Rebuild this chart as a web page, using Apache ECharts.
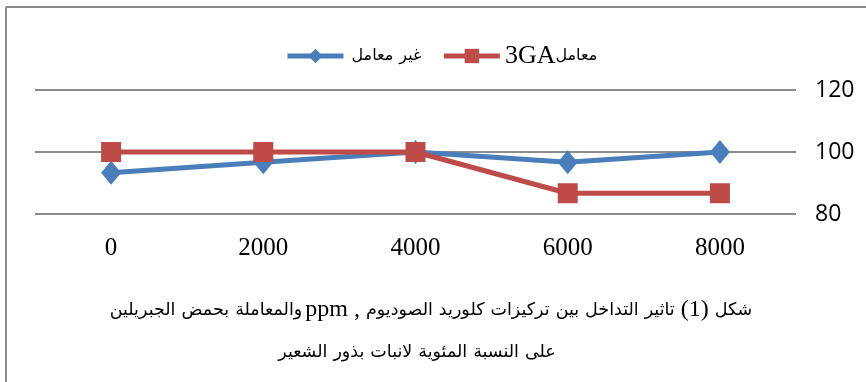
<!DOCTYPE html>
<html>
<head>
<meta charset="utf-8">
<script src="https://cdn.jsdelivr.net/npm/echarts@6/dist/echarts.min.js"></script>
<style>
  html, body { margin: 0; padding: 0; background: #fff; }
  #chart { width: 866px; height: 382px; }
</style>
</head>
<body>
<div id="chart"></div>
<script>
// NaCl concentration (ppm)
const categories = ['0', '2000', '4000', '6000', '8000'];
// germination percentage, untreated seeds
const untreated = [93.3, 96.7, 100, 96.7, 100];
// germination percentage, GA3-treated seeds
const treatedGA3 = [100, 100, 100, 86.7, 86.7];
const yTicks = { min: 80, max: 120, interval: 20 };

const nameUntreated = 'غير معامل';
const nameTreated = 'معامل3GA';

// Text runs in logical order; 'ar' = Arabic word, 'la' = Latin text, 'pm' = punctuation
const legendRuns = {
  'غير معامل': [['ar', 'معامل'], ['ar', 'غير']],
  'معامل3GA': [['la', '3GA'], ['ar0', 'معامل']]
};
const captionRuns1 = [
  ['ar', 'الجبريلين'], ['ar', 'بحمض'], ['ar0', 'والمعاملة'], ['la', 'ppm'], ['pm', ','],
  ['ar', 'الصوديوم'], ['ar', 'كلوريد'], ['ar', 'تركيزات'], ['ar', 'بين'], ['ar', 'التداخل'],
  ['ar', 'تاثير'], ['la', '(1)'], ['ar', 'شكل']
];
const captionRuns2 = [
  ['ar', 'الشعير'], ['ar', 'بذور'], ['ar', 'لانبات'], ['ar', 'المئوية'], ['ar', 'النسبة'], ['ar', 'على']
];

const toRich = (runs) => runs.map(([k, t]) => '{' + k + '|' + t + '}').join('');

const serif = "'Liberation Serif', serif";
const arabic = "'DejaVu Sans', sans-serif";
const blue = '#4a7ebb';
const red = '#be4b48';

const legendRich = {
  ar: { fontFamily: arabic, fontSize: 16, color: '#000', padding: [0, 3] },
  ar0: { fontFamily: arabic, fontSize: 16, color: '#000' },
  la: { fontFamily: serif, fontSize: 26, color: '#000' }
};
const captionRich = {
  ar: { fontFamily: arabic, fontSize: 17.5, fill: '#000', color: '#000', padding: [0, 3] },
  ar0: { fontFamily: arabic, fontSize: 17.5, fill: '#000', color: '#000', padding: [0, 0, 0, 3] },
  la: { fontFamily: serif, fontSize: 24, fill: '#000', color: '#000', padding: [0, 3] },
  pm: { fontFamily: serif, fontSize: 24, fill: '#000', color: '#000', padding: [0, 3] }
};

const chart = echarts.init(document.getElementById('chart'), null, { renderer: 'canvas' });
chart.setOption({
  animation: false,
  backgroundColor: '#fff',
  legend: {
    top: 38,
    left: 280,
    itemWidth: 56,
    itemHeight: 18,
    itemGap: 20,
    lineStyle: { width: 5 },
    formatter: (name) => toRich(legendRuns[name]),
    textStyle: { rich: legendRich },
    data: [nameUntreated, nameTreated]
  },
  grid: { left: 35, right: 70, top: 90, bottom: 168 },
  xAxis: {
    type: 'category',
    data: categories,
    boundaryGap: true,
    axisLine: { show: false },
    axisTick: { show: false },
    axisLabel: { margin: 22, fontFamily: serif, fontSize: 25, color: '#000' }
  },
  yAxis: {
    type: 'value',
    position: 'right',
    min: yTicks.min,
    max: yTicks.max,
    interval: yTicks.interval,
    axisLine: { show: false },
    axisTick: { show: false },
    axisLabel: { margin: 19, fontFamily: "'Open Sans', sans-serif", fontSize: 23, color: '#000' },
    splitLine: { lineStyle: { color: '#8c8c8c', width: 2 } }
  },
  series: [
    {
      name: nameUntreated,
      type: 'line',
      data: untreated,
      symbol: 'diamond',
      symbolSize: [20, 24],
      lineStyle: { color: blue, width: 5 },
      itemStyle: { color: blue }
    },
    {
      name: nameTreated,
      type: 'line',
      data: treatedGA3,
      symbol: 'rect',
      symbolSize: 20,
      lineStyle: { color: red, width: 5 },
      itemStyle: { color: red }
    }
  ],
  graphic: [
    { type: 'line', shape: { x1: 6, y1: 7, x2: 866, y2: 7 }, style: { stroke: '#8a8a8a', lineWidth: 2 } },
    { type: 'line', shape: { x1: 6, y1: 7, x2: 6, y2: 382 }, style: { stroke: '#8a8a8a', lineWidth: 2 } },
    { type: 'text', x: 431, y: 310, style: { text: toRich(captionRuns1), rich: captionRich, textAlign: 'center', textVerticalAlign: 'middle' } },
    { type: 'text', x: 417, y: 352, style: { text: toRich(captionRuns2), rich: captionRich, textAlign: 'center', textVerticalAlign: 'middle' } }
  ]
});
</script>
</body>
</html>
